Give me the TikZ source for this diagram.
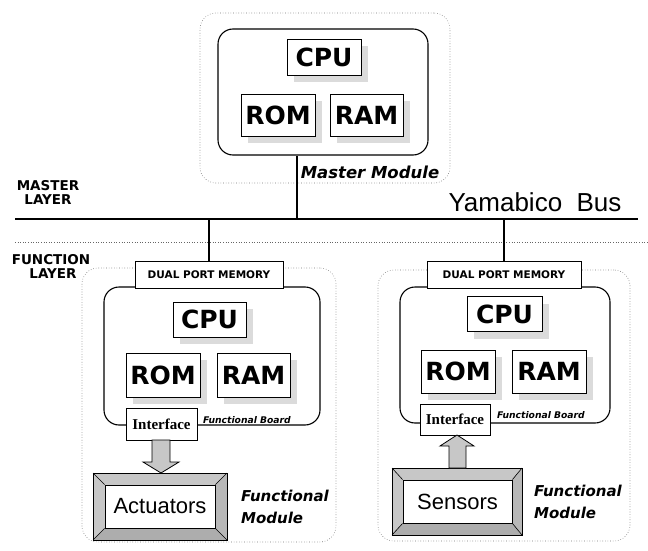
\documentclass[tikz,border=0pt]{standalone}
\usepackage{fontspec}
\setmainfont{DejaVu Sans}
\newfontfamily\dvs{DejaVu Sans}
\newfontfamily\lib{Liberation Sans}
\newfontfamily\libserif{Liberation Serif}
\usetikzlibrary{shadows}
\begin{document}
\begin{tikzpicture}[x=1pt,y=-1pt,
  chip/.style={draw, line width=0.9pt, fill=white, inner sep=0pt,
    font=\dvs\bfseries\fontsize{25}{25}\selectfont,
    general shadow={fill=black!14, shadow xshift=7pt, shadow yshift=-7pt}},
  board/.style={draw, line width=1.1pt, rounded corners=15pt, inner sep=0pt},
  outerbox/.style={draw=black!55, line width=0.6pt, dotted, rounded corners=16pt, inner sep=0pt},
  dpm/.style={draw, line width=0.9pt, fill=white, inner sep=0pt, minimum height=27pt,
    font=\dvs\bfseries\fontsize{10.5}{10.5}\selectfont},
  iface/.style={draw, line width=0.9pt, fill=white, inner sep=0pt,
    font=\libserif\bfseries\fontsize{15}{15}\selectfont},
  layerlbl/.style={font=\dvs\bfseries\fontsize{13.5}{14}\selectfont, align=center, inner sep=0pt},
  modlbl/.style={font=\dvs\bfseries\itshape\fontsize{15}{22}\selectfont, align=left, inner sep=0pt},
  boardlbl/.style={font=\dvs\bfseries\itshape\fontsize{9.2}{9.2}\selectfont, inner sep=0pt},
  devlbl/.style={font=\lib\fontsize{22}{22}\selectfont, inner sep=0pt},
  busline/.style={line width=2pt},
  frameouter/.style={draw, line width=0.9pt, fill=black!22},
  blockarrow/.style={draw, line width=0.8pt, fill=black!22, line join=miter}
]
\useasboundingbox (0,0) rectangle (648,551);

% ---------------- outer dotted module boxes ----------------
\node[outerbox, minimum width=250pt, minimum height=170pt] (mmod) at (325,98) {};
\node[outerbox, minimum width=254pt, minimum height=274pt] (lmod) at (209,405) {};
\node[outerbox, minimum width=252pt, minimum height=271pt] (rmod) at (504,405.5) {};

% ---------------- master module ----------------
\node[board, minimum width=210pt, minimum height=126pt] (mboard) at (323,92) {};
\node[chip, minimum width=74pt, minimum height=36pt] (mcpu) at (324,57) {CPU};
\node[chip, minimum width=74pt, minimum height=42pt] (mrom) at (278,115) {ROM};
\node[chip, minimum width=73pt, minimum height=42pt] (mram) at (366.5,115) {RAM};
\node[modlbl, font=\dvs\bfseries\itshape\fontsize{16.5}{16.5}\selectfont] (mlbl) at (370,172) {Master Module};

% ---------------- bus ----------------
\coordinate (busL) at (15,219);
\coordinate (busR) at (638,219);
\coordinate (dotL) at (15,242);
\coordinate (dotR) at (648,242);
\coordinate (mtap) at (297,219);
\draw[busline, line width=2.6pt] (busL) -- (busR);
\draw[black!60, line width=0.6pt, dotted] (dotL) -- (dotR);
\draw[busline] (mtap) -- (mtap |- mboard.south);
\node[font=\lib\fontsize{26}{26}\selectfont, inner sep=0pt] (ybus) at (535,202) {Yamabico\ \ Bus};

\node[layerlbl] (mlayer) at (48,192) {MASTER\\LAYER};
\node[layerlbl] (flayer) at (51,266.5) {FUNCTION\\\hspace*{4pt}LAYER};

% ---------------- left functional module ----------------
\node[board, minimum width=216pt, minimum height=138pt] (lboard) at (212,356) {};
\node[dpm, minimum width=148pt] (ldpm) at (209,274.5) {DUAL PORT MEMORY};
\draw[busline] (ldpm.north) -- (ldpm.north |- busL);
\node[chip, minimum width=73pt, minimum height=35pt] (lcpu) at (209.5,319.5) {CPU};
\node[chip, minimum width=74pt, minimum height=44pt] (lrom) at (163,375) {ROM};
\node[chip, minimum width=73pt, minimum height=44pt] (lram) at (253.5,375) {RAM};
\node[iface, minimum width=71pt, minimum height=32pt] (lif) at (161.5,424) {Interface};
\node[boardlbl] (lblbl) at (247,420) {Functional Board};
% actuator frame
\draw[frameouter] (93,473) rectangle (227,540);
\fill[black!32] (93,540) -- (105,528) -- (215,528) -- (227,540) -- cycle;
\fill[black!28] (227,473) -- (215,485) -- (215,528) -- (227,540) -- cycle;
\draw[line width=0.9pt] (93,473) rectangle (227,540);
\node[draw, line width=0.9pt, fill=white, minimum width=110pt, minimum height=43pt, inner sep=0pt,
      devlbl] (act) at (160,506.5) {Actuators};
\draw[line width=0.6pt] (93,473) -- (act.north west) (227,473) -- (act.north east)
  (93,540) -- (act.south west) (227,540) -- (act.south east);
\draw[blockarrow] (152,440) -- (170,440) -- (170,462) -- (179,462) -- (161,473)
  -- (143,462) -- (152,462) -- cycle;
\node[modlbl] (lmlbl) at (285,507) {Functional\\Module};

% ---------------- right functional module ----------------
\node[board, minimum width=210pt, minimum height=136pt] (rboard) at (505,355) {};
\node[dpm, minimum width=154pt] (rdpm) at (504,275) {DUAL PORT MEMORY};
\draw[busline] (rdpm.north) -- (rdpm.north |- busL);
\node[chip, minimum width=75pt, minimum height=35pt] (rcpu) at (504.5,314) {CPU};
\node[chip, minimum width=74pt, minimum height=43pt] (rrom) at (458,371.5) {ROM};
\node[chip, minimum width=74pt, minimum height=43pt] (rram) at (549,371.5) {RAM};
\node[iface, minimum width=70pt, minimum height=31pt] (rif) at (455,419.5) {Interface};
\node[boardlbl] (rblbl) at (541,415) {Functional Board};
% sensor frame
\draw[frameouter] (392,468) rectangle (522,535);
\fill[black!32] (392,535) -- (403,523) -- (512,523) -- (522,535) -- cycle;
\fill[black!28] (522,468) -- (512,480) -- (512,523) -- (522,535) -- cycle;
\draw[line width=0.9pt] (392,468) rectangle (522,535);
\node[draw, line width=0.9pt, fill=white, minimum width=109pt, minimum height=43pt, inner sep=0pt,
      devlbl] (sen) at (457.5,501.5) {Sensors};
\draw[line width=0.6pt] (392,468) -- (sen.north west) (522,468) -- (sen.north east)
  (392,535) -- (sen.south west) (522,535) -- (sen.south east);
\draw[blockarrow] (449,468) -- (466,468) -- (466,446) -- (474,446) -- (457,435)
  -- (440,446) -- (449,446) -- cycle;
\node[modlbl] (rmlbl) at (578,502) {Functional\\Module};
\end{tikzpicture}
\end{document}
